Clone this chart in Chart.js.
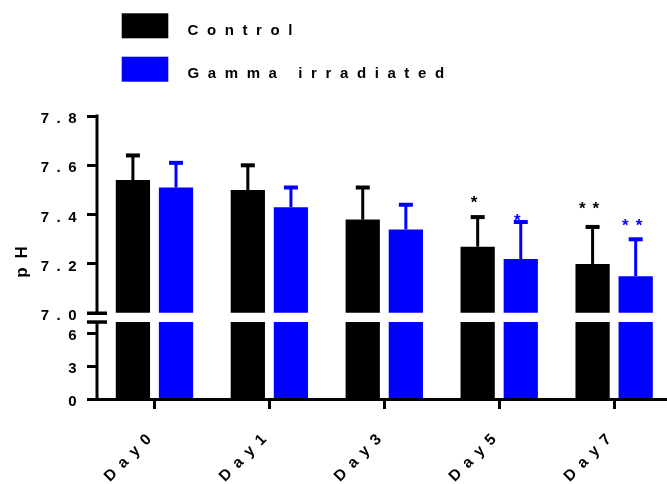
<!DOCTYPE html>
<html>
<head>
<meta charset="utf-8">
<title>pH over time</title>
<script src="https://cdn.jsdelivr.net/npm/chart.js@4/dist/chart.umd.min.js"></script>
<style>
  html, body { margin: 0; padding: 0; background: #ffffff; }
  #chart { display: block; }
</style>
</head>
<body>
<canvas id="chart" width="667" height="484"></canvas>
<script>
// ---- data ----
const DAYS = ['Day0', 'Day1', 'Day3', 'Day5', 'Day7'];
const SERIES_NAMES = ['Control', 'Gamma irradiated'];
const CONTROL_PH = [7.54, 7.50, 7.38, 7.27, 7.20];
const CONTROL_SD = [0.10, 0.10, 0.13, 0.12, 0.15];
const GAMMA_PH = [7.51, 7.43, 7.34, 7.22, 7.15];
const GAMMA_SD = [0.10, 0.08, 0.10, 0.15, 0.15];
const CONTROL_SIG = ['', '', '', '*', '**'];
const GAMMA_SIG = ['', '', '', '*', '**'];
const UPPER_TICKS = [7.0, 7.2, 7.4, 7.6, 7.8];
const LOWER_TICKS = [0, 3, 6];

// ---- axis break ----
const AXIS_BREAK = 7.0;   // lower segment ends here, upper segment starts here
const UPPER_MAX = 7.8;
const LOWER_MAX = 7.8;    // space above the break in the lower segment is left empty

const FONT = "'Liberation Sans', Arial, Helvetica, sans-serif";
const BLACK = '#000000';
const BLUE = '#0000ff';

const points = arr => arr.map((v, i) => ({ x: i, y: v }));
const belowBreak = arr => arr.map((v, i) => ({ x: i, y: Math.min(v, AXIS_BREAK) }));

// stars above error bars: vertical lift in px above the cap
const STAR_LIFT = { 0: [0, 0, 0, 19, 23], 1: [0, 0, 0, 6, 18] };

const decorations = {
  id: 'decorations',
  beforeLayout(chart) { chart.ctx.letterSpacing = '7.5px'; },
  beforeDraw(chart) { chart.ctx.letterSpacing = '7.5px'; },
  afterDatasetsDraw(chart) {
    const { ctx, chartArea } = chart;
    const up = chart.scales.yUp;
    const low = chart.scales.yLow;
    const groups = [
      { di: 0, means: CONTROL_PH, sds: CONTROL_SD, sig: CONTROL_SIG },
      { di: 1, means: GAMMA_PH, sds: GAMMA_SD, sig: GAMMA_SIG }
    ];
    ctx.save();
    // error bars, upward only
    groups.forEach(g => {
      const meta = chart.getDatasetMeta(g.di);
      ctx.fillStyle = chart.data.datasets[g.di].backgroundColor;
      meta.data.forEach((bar, i) => {
        const yTop = up.getPixelForValue(g.means[i] + g.sds[i]);
        const yBar = up.getPixelForValue(g.means[i]);
        ctx.fillRect(bar.x - 1.5, yTop, 3, yBar - yTop);
        ctx.fillRect(bar.x - 7, yTop - 2, 14, 4);
      });
    });
    // significance stars
    ctx.letterSpacing = '7px';
    ctx.font = `bold 17px ${FONT}`;
    ctx.textAlign = 'center';
    ctx.textBaseline = 'alphabetic';
    groups.forEach(g => {
      const meta = chart.getDatasetMeta(g.di);
      ctx.fillStyle = chart.data.datasets[g.di].backgroundColor;
      meta.data.forEach((bar, i) => {
        if (!g.sig[i]) return;
        const yTop = up.getPixelForValue(g.means[i] + g.sds[i]);
        const yc = yTop - STAR_LIFT[g.di][i];
        ctx.fillText(g.sig[i], bar.x, yc + 0.57 * 17);
      });
    });
    // broken y axis
    const x0 = chartArea.left;
    ctx.strokeStyle = BLACK;
    ctx.lineCap = 'butt';
    const line = (xa, ya, xb, yb) => { ctx.beginPath(); ctx.moveTo(xa, ya); ctx.lineTo(xb, yb); ctx.stroke(); };
    ctx.lineWidth = 3;
    line(x0, low.getPixelForValue(0) + 1.5, x0, low.getPixelForValue(AXIS_BREAK));
    line(x0, up.getPixelForValue(AXIS_BREAK), x0, up.getPixelForValue(UPPER_MAX) - 1.5);
    ctx.lineWidth = 3.5;
    [low.getPixelForValue(AXIS_BREAK), up.getPixelForValue(AXIS_BREAK)].forEach(y => line(x0 - 10, y, x0 + 10, y));
    ctx.restore();
  },
  afterDraw(chart) {
    const { ctx } = chart;
    ctx.save();
    // legend
    ctx.letterSpacing = '8.6px';
    ctx.font = `bold 15px ${FONT}`;
    ctx.textAlign = 'left';
    ctx.textBaseline = 'alphabetic';
    SERIES_NAMES.forEach((name, k) => {
      const top = 13.3 + k * 43.4;
      ctx.fillStyle = chart.data.datasets[k].backgroundColor;
      ctx.fillRect(121.7, top, 46.6, 25);
      ctx.fillStyle = BLACK;
      ctx.fillText(name, 187.5, top + 21.7);
    });
    // y axis title
    ctx.letterSpacing = '9px';
    ctx.font = `bold 17px ${FONT}`;
    ctx.textAlign = 'center';
    ctx.translate(27, 262);
    ctx.rotate(-Math.PI / 2);
    ctx.fillText('pH', 4.5, 0);
    ctx.restore();
  }
};

const tickFont = size => ({ family: FONT, size, weight: 'bold' });

new Chart(document.getElementById('chart'), {
  type: 'bar',
  data: {
    datasets: [
      { label: SERIES_NAMES[0], data: points(CONTROL_PH), yAxisID: 'yUp', stack: 'control', base: AXIS_BREAK, backgroundColor: BLACK },
      { label: SERIES_NAMES[1], data: points(GAMMA_PH), yAxisID: 'yUp', stack: 'gamma', base: AXIS_BREAK, backgroundColor: BLUE },
      { label: SERIES_NAMES[0], data: belowBreak(CONTROL_PH), yAxisID: 'yLow', stack: 'control', backgroundColor: BLACK },
      { label: SERIES_NAMES[1], data: belowBreak(GAMMA_PH), yAxisID: 'yLow', stack: 'gamma', backgroundColor: BLUE }
    ]
  },
  options: {
    responsive: false,
    devicePixelRatio: 1,
    animation: false,
    events: [],
    categoryPercentage: 0.75,
    barPercentage: 0.795,
    layout: { padding: { top: 116, left: 0, right: 0, bottom: 0 } },
    plugins: { legend: { display: false }, tooltip: { enabled: false } },
    scales: {
      x: {
        type: 'linear',
        offset: false,
        min: -0.5,
        max: 4.46,
        afterBuildTicks: s => { s.ticks = DAYS.map((_, i) => ({ value: i })); },
        afterFit: s => { s.height = 85; },
        ticks: {
          autoSkip: false,
          minRotation: 45,
          maxRotation: 45,
          padding: 20,
          color: BLACK,
          font: { family: FONT, size: 15.5, weight: 'bold', lineHeight: 0.5 },
          callback: v => DAYS[v]
        },
        grid: { offset: false, drawOnChartArea: false, drawTicks: true, tickLength: 10, tickWidth: 3, tickColor: BLACK },
        border: { display: true, width: 3, color: BLACK, z: 1 }
      },
      yLow: {
        type: 'linear',
        position: 'left',
        stack: 'ph',
        stackWeight: 1,
        weight: 0,
        stacked: false,
        min: 0,
        max: LOWER_MAX,
        afterBuildTicks: s => { s.ticks = LOWER_TICKS.map(v => ({ value: v })); },
        afterFit: s => { s.width = 97; },
        ticks: { padding: 3, labelOffset: 3, color: BLACK, font: tickFont(15), callback: v => String(v) },
        grid: { drawOnChartArea: false, drawTicks: true, tickLength: 10, tickWidth: 3, tickColor: BLACK },
        border: { display: false }
      },
      yUp: {
        type: 'linear',
        position: 'left',
        stack: 'ph',
        stackWeight: 2.3,
        weight: 1,
        stacked: false,
        min: AXIS_BREAK,
        max: UPPER_MAX,
        afterBuildTicks: s => { s.ticks = UPPER_TICKS.map(v => ({ value: v })); },
        afterFit: s => { s.width = 97; },
        ticks: { padding: 3, labelOffset: 3, color: BLACK, font: tickFont(15), callback: v => v.toFixed(1) },
        grid: { drawOnChartArea: false, drawTicks: true, tickLength: 10, tickWidth: 3, tickColor: BLACK },
        border: { display: false }
      }
    }
  },
  plugins: [decorations]
});
</script>
</body>
</html>
